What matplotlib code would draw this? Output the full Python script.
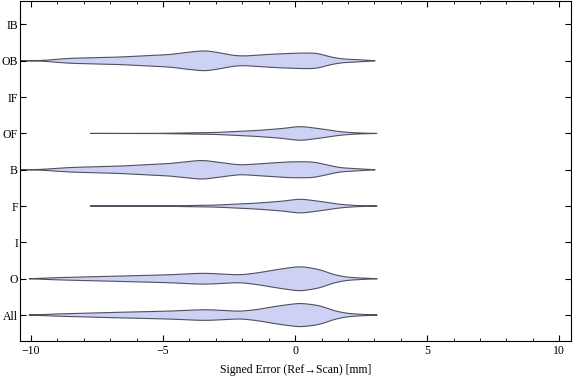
import numpy as np
import matplotlib
matplotlib.use("Agg")
import matplotlib.pyplot as plt
from matplotlib.ticker import MultipleLocator

plt.rcParams['font.family'] = ['Liberation Serif', 'DejaVu Serif']

categories = ["All", "O", "I", "F", "B", "OF", "IF", "OB", "IB"]

# violin profiles: x positions (mm) and half-widths (in category units)
ob_x = [-10.6, -9.66, -8.52, -6.63, -4.73, -3.98, -3.41, -2.84, -2.35, -1.97, -0.83, 0.19, 0.83, 1.33, 1.82, 2.35, 3.03]
ob_hw = [0, 0.005, 0.069, 0.104, 0.173, 0.242, 0.283, 0.22, 0.146, 0.129, 0.184, 0.214, 0.214, 0.104, 0.047, 0.033, 0]

b_x = [-10.6, -9.66, -8.52, -6.63, -4.73, -3.52, -2.84, -2.08, -0.19, 0.68, 1.70, 2.35, 3.03]
b_hw = [0, 0.008, 0.063, 0.102, 0.173, 0.266, 0.2, 0.129, 0.22, 0.22, 0.055, 0.03, 0]

of_x = [-7.76, -5.1, -3.0, -1.44, -0.45, 0.19, 1.06, 1.70, 2.35, 3.1]
of_hw = [0, 0.003, 0.027, 0.082, 0.137, 0.2, 0.118, 0.047, 0.014, 0]

f_x = [-7.76, -5.1, -3.0, -1.44, -0.45, 0.19, 1.06, 1.70, 2.35, 3.1]
f_hw = [0, 0.003, 0.027, 0.082, 0.137, 0.2, 0.118, 0.047, 0.014, 0]

o_x = [-10.08, -8.90, -6.63, -4.73, -3.60, -3.22, -2.08, -1.44, -0.68, 0.19, 0.95, 1.44, 1.97, 2.46, 3.11]
o_hw = [0, 0.033, 0.074, 0.11, 0.151, 0.146, 0.104, 0.159, 0.253, 0.343, 0.253, 0.115, 0.041, 0.022, 0]

all_x = [-10.08, -8.90, -6.63, -4.73, -3.60, -3.22, -2.08, -1.44, -0.68, 0.19, 0.95, 1.44, 1.97, 2.46, 3.11]
all_hw = [0, 0.033, 0.077, 0.11, 0.146, 0.146, 0.102, 0.151, 0.247, 0.33, 0.261, 0.124, 0.044, 0.022, 0]

profiles = {
    "All": (all_x, all_hw),
    "O": (o_x, o_hw),
    "F": (f_x, f_hw),
    "B": (b_x, b_hw),
    "OF": (of_x, of_hw),
    "OB": (ob_x, ob_hw),
}

fill_color = "#cdd1f4"
edge_color = "#50505e"


def smooth_profile(xs, hws, sigma=0.18):
    xs = np.asarray(xs, float)
    hws = np.asarray(hws, float)
    step = 0.01
    grid = np.arange(xs[0], xs[-1] + step / 2, step)
    vals = np.interp(grid, xs, hws)
    k = int(3 * sigma / step)
    kern = np.exp(-0.5 * (np.arange(-k, k + 1) * step / sigma) ** 2)
    kern /= kern.sum()
    padded = np.concatenate([np.zeros(k), vals, np.zeros(k)])
    sm = np.convolve(padded, kern, mode="same")[k:-k]
    sm[0] = 0
    sm[-1] = 0
    return grid, sm


fig = plt.figure(figsize=(5.76, 3.81), dpi=100)
ax = fig.add_axes([20 / 576, 40 / 381, 551 / 576, 340.5 / 381])

for i, cat in enumerate(categories):
    ypos = i + 1
    if cat in profiles:
        xs, hws = profiles[cat]
        gx, gh = smooth_profile(xs, hws)
        px = np.concatenate([gx, gx[::-1]])
        py = np.concatenate([ypos + gh, (ypos - gh)[::-1]])
        ax.fill(px, py, facecolor=fill_color, edgecolor=edge_color, lw=0.8, joinstyle="round")

ax.set_xlim(-10.42, 10.45)
ax.set_ylim(0.286, 9.66)
ax.set_yticks(range(1, len(categories) + 1))
ax.set_yticklabels(categories)
ax.set_xticks([-10, -5, 0, 5, 10])
ax.set_xticklabels(["\u221210", "\u22125", "0", "5", "10"])
ax.xaxis.set_minor_locator(MultipleLocator(1))
ax.tick_params(axis="both", which="major", direction="in", top=True, right=True,
               length=4.5, width=0.8, labelsize=8.5, pad=3)
ax.tick_params(axis="y", which="major", pad=1.5)
ax.tick_params(axis="x", which="minor", direction="in", top=True, bottom=True,
               length=2.5, width=0.6)
for s in ax.spines.values():
    s.set_linewidth(0.8)
ax.set_xlabel("Signed Error (Ref\u2192Scan) [mm]", fontsize=8.5, labelpad=5)

fig.savefig("out.png", dpi=100)
